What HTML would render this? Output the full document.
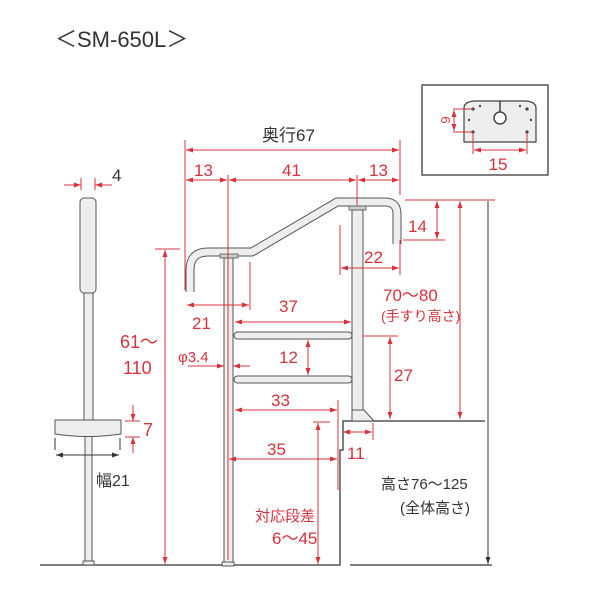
<!DOCTYPE html>
<html><head><meta charset="utf-8"><style>
body{margin:0;background:#fff}
text{font-family:"Liberation Sans","Noto Sans CJK JP",sans-serif}
.r{fill:#d4333c}.k{fill:#333}
</style></head><body>
<svg width="600" height="600" viewBox="0 0 600 600" xmlns="http://www.w3.org/2000/svg">
<defs>
<marker id="a" viewBox="0 0 10 10" refX="10" refY="5" markerWidth="7" markerHeight="7" orient="auto-start-reverse"><path d="M0,1.5L10,5L0,8.5z" fill="#d4333c"/></marker>
<marker id="b" viewBox="0 0 10 10" refX="10" refY="5" markerWidth="7" markerHeight="7" orient="auto-start-reverse"><path d="M0,1.5L10,5L0,8.5z" fill="#333"/></marker>
</defs>
<text x="55" y="47" font-size="22" class="k">＜SM-650L＞</text>

<!-- inset -->
<rect x="422" y="85" width="126" height="90" fill="#fff" stroke="#555" stroke-width="1.5"/>
<path d="M464,142V108q0-6 10-7h52q10 1 10 7v34z" fill="#eee" stroke="#444" stroke-width="1.2"/>
<circle cx="500" cy="118" r="6" fill="#fff" stroke="#444" stroke-width="1.5"/>
<line x1="500" y1="101" x2="500" y2="112" stroke="#444" stroke-width="1.5"/>
<g fill="#444"><circle cx="473" cy="109" r="1.6"/><circle cx="473" cy="132" r="1.6"/><circle cx="527" cy="109" r="1.6"/><circle cx="527" cy="132" r="1.6"/><circle cx="480" cy="106" r="1.2"/><circle cx="520" cy="106" r="1.2"/><circle cx="469" cy="120" r="1.2"/><circle cx="531" cy="120" r="1.2"/></g>
<g stroke="#d4333c" stroke-width="1" fill="none">
<path d="M453,109h20M453,132h20M473,134v20M527,134v20"/>
<line x1="454" y1="110" x2="454" y2="131" marker-start="url(#a)" marker-end="url(#a)"/>
<line x1="474" y1="150" x2="526" y2="150" marker-start="url(#a)" marker-end="url(#a)"/>
</g>
<text x="441" y="120" font-size="13" class="r" transform="rotate(90 441 120)" text-anchor="middle">6</text>
<text x="498" y="170" font-size="17" class="r" text-anchor="middle">15</text>

<!-- ground -->
<g stroke="#555" stroke-width="1.5" fill="none">
<path d="M40,565H340V450H343V421H485"/>
<path d="M350,565H492"/>
</g>

<!-- side view -->
<g stroke="#555" stroke-width="1" fill="#eee">
<rect x="85" y="420" width="7" height="144"/>
<rect x="84" y="293" width="9" height="140"/>
<rect x="80" y="198" width="16" height="95" rx="4"/>
<path d="M55,420h66v14q-33,5 -66,0z"/>
<rect x="83" y="561" width="11" height="4"/>
</g>
<g stroke="#d4333c" stroke-width="1" fill="none">
<path d="M81,178v12M95,178v12"/>
<line x1="64" y1="185" x2="81" y2="185" marker-end="url(#a)"/>
<line x1="112" y1="185" x2="95" y2="185" marker-end="url(#a)"/>
<path d="M125,421h15M125,437h15"/>
<line x1="133" y1="405" x2="133" y2="421" marker-end="url(#a)"/>
<line x1="133" y1="453" x2="133" y2="437" marker-end="url(#a)"/>
<path d="M155,249h25"/>
<line x1="165" y1="250" x2="165" y2="564" marker-start="url(#a)" marker-end="url(#a)"/>
</g>
<g stroke="#333" stroke-width="1"><path d="M55,438v12M120,438v12"/><line x1="56" y1="455" x2="119" y2="455" marker-start="url(#b)" marker-end="url(#b)"/></g>
<text x="112" y="181" font-size="17" class="k">4</text>
<text x="143" y="436" font-size="18" class="r">7</text>
<text x="96" y="486" font-size="16" class="k">幅21</text>
<text x="120" y="348" font-size="18" class="r">61～</text>
<text x="123" y="374" font-size="18" class="r">110</text>

<!-- handrail -->
<g stroke="#555" stroke-width="1" fill="#eee">
<rect x="224" y="258" width="9" height="307"/>
<rect x="222" y="562" width="12" height="4"/>
<rect x="352" y="210" width="11" height="208"/>
<path d="M352,410l12,0 10,11h-22z"/>
<rect x="234" y="332" width="118" height="7" rx="3.5"/>
<rect x="234" y="376" width="118" height="7" rx="3.5"/>
</g>
<path d="M190,292V270q0-18 18-18h44l85-50h48q12 0 12 12v30" fill="none" stroke="#555" stroke-width="9" stroke-linejoin="round"/>
<path d="M190,292V270q0-18 18-18h44l85-50h48q12 0 12 12v30" fill="none" stroke="#eee" stroke-width="7" stroke-linejoin="round"/>
<rect x="220" y="254" width="18" height="4" fill="#ccc" stroke="#555" stroke-width="0.8"/>
<rect x="349" y="206" width="17" height="4" fill="#ccc" stroke="#555" stroke-width="0.8"/>

<g stroke="#d4333c" stroke-width="1" fill="none">
<path d="M185,140V290M400,140V195M228,175V560M357,175V205"/>
<line x1="186" y1="150" x2="399" y2="150" marker-start="url(#a)" marker-end="url(#a)"/>
<line x1="186" y1="180" x2="227" y2="180" marker-start="url(#a)" marker-end="url(#a)"/>
<line x1="229" y1="180" x2="356" y2="180" marker-start="url(#a)" marker-end="url(#a)"/>
<line x1="358" y1="180" x2="399" y2="180" marker-start="url(#a)" marker-end="url(#a)"/>
<path d="M250,262V310"/>
<line x1="187" y1="305" x2="249" y2="305" marker-start="url(#a)" marker-end="url(#a)"/>
<line x1="235" y1="322" x2="351" y2="322" marker-start="url(#a)" marker-end="url(#a)"/>
<line x1="188" y1="366" x2="224" y2="366" marker-end="url(#a)"/>
<line x1="250" y1="366" x2="233" y2="366" marker-end="url(#a)"/>
<line x1="308" y1="340" x2="308" y2="375" marker-start="url(#a)" marker-end="url(#a)"/>
<path d="M363,336H398"/>
<line x1="390" y1="337" x2="390" y2="419" marker-start="url(#a)" marker-end="url(#a)"/>
<path d="M340,225V275M400,240V275"/>
<line x1="341" y1="268" x2="399" y2="268" marker-start="url(#a)" marker-end="url(#a)"/>
<path d="M405,200H495M403,240H445"/>
<line x1="437" y1="201" x2="437" y2="239" marker-start="url(#a)" marker-end="url(#a)"/>
<line x1="460" y1="201" x2="460" y2="419" marker-start="url(#a)" marker-end="url(#a)"/>
<line x1="235" y1="410" x2="337" y2="410" marker-start="url(#a)" marker-end="url(#a)"/>
<path d="M338,400V490M373,423V440M313,422H330"/>
<line x1="343" y1="432" x2="372" y2="432" marker-start="url(#a)" marker-end="url(#a)"/>
<line x1="229" y1="459" x2="337" y2="459" marker-start="url(#a)" marker-end="url(#a)"/>
<line x1="318" y1="423" x2="318" y2="564" marker-start="url(#a)" marker-end="url(#a)"/>
</g>
<line x1="488" y1="201" x2="488" y2="564" stroke="#333" stroke-width="1" marker-end="url(#b)"/>

<g font-size="17" class="r">
<text x="194" y="176">13</text><text x="282" y="176">41</text><text x="369" y="176">13</text>
<text x="192" y="329">21</text><text x="279" y="312">37</text>
<text x="178" y="362" font-size="15">φ3.4</text>
<text x="279" y="363">12</text><text x="394" y="381">27</text>
<text x="364" y="263">22</text><text x="408" y="232">14</text>
<text x="383" y="301">70～80</text><text x="381" y="321" font-size="14">(手すり高さ)</text>
<text x="271" y="406">33</text><text x="267" y="455">35</text><text x="347" y="459">11</text>
<text x="255" y="521" font-size="15">対応段差</text><text x="272" y="544">6～45</text>
</g>
<text x="262" y="141" font-size="17" class="k">奥行67</text>
<text x="381" y="489" font-size="15" class="k">高さ76～125</text>
<text x="400" y="513" font-size="15" class="k">(全体高さ)</text>
</svg>
</body></html>
